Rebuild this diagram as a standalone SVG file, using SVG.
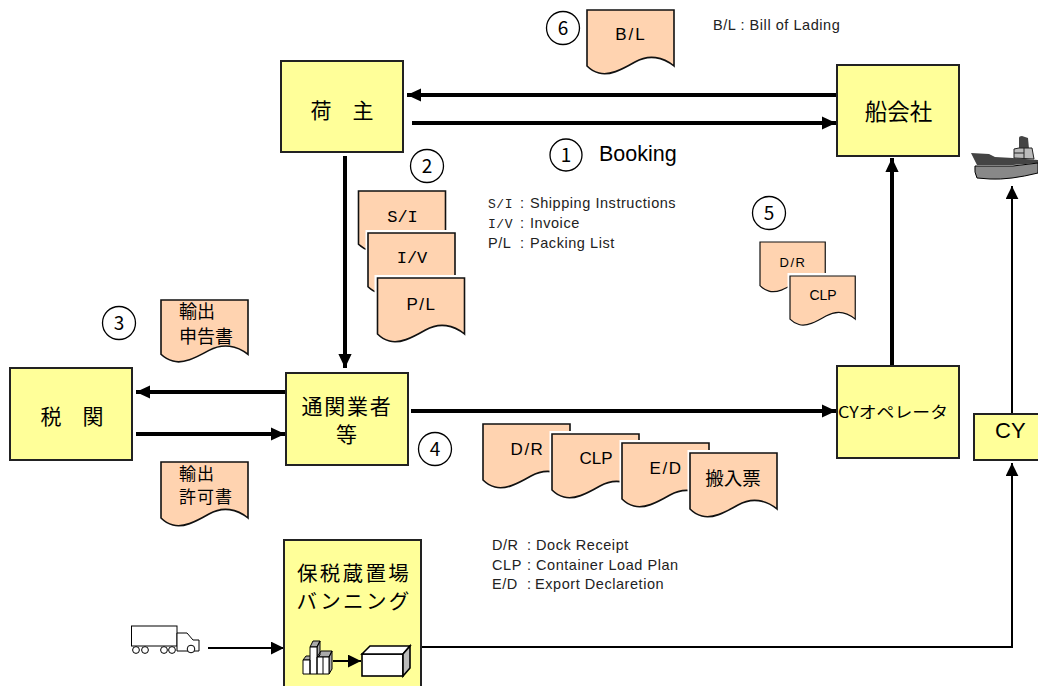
<svg xmlns="http://www.w3.org/2000/svg" width="1038" height="686" viewBox="0 0 1038 686">
<style>
text{font-family:"Noto Sans CJK JP","Liberation Sans",sans-serif;fill:#000}
.n{fill:#ffff99;stroke:#222;stroke-width:2}
.d{fill:#ffd3b0;stroke:#111;stroke-width:1.6}
.w{fill:none;stroke:#fff;stroke-width:3}
.c{text-anchor:middle}
.o{fill:#fff;stroke:#000;stroke-width:1.3}
text.s{font-family:"Liberation Sans",sans-serif;font-size:14.5px;letter-spacing:.55px;fill:#222}
text.l{font-family:"Liberation Sans",sans-serif}
.m{font-family:"Liberation Mono",monospace}
.t{fill:none;stroke:#000;stroke-width:4}
.f{fill:none;stroke:#000;stroke-width:2}
</style>
<defs>
<marker id="a" markerWidth="4" markerHeight="4" refX="3.600" refY="2" orient="auto"><path d="M0,0.3L3.600,2L0,3.700z" fill="#000"/></marker>
<marker id="b" markerWidth="7" markerHeight="7" refX="6.500" refY="3.200" orient="auto"><path d="M0,0L6.500,3.200L0,6.400z" fill="#000"/></marker>
<path id="doc" d="M0,0H87V56C76,47 62,44 48,52C34,60 22,66 12,63Q5,61 0,56Z"/>
</defs>

<g id="connectors">
<path class="t" marker-end="url(#a)" d="M836,95H407"/>
<path class="t" marker-end="url(#a)" d="M412,123H836"/>
<path class="t" marker-end="url(#a)" d="M345,156V368"/>
<path class="t" marker-end="url(#a)" d="M285,392H136"/>
<path class="t" marker-end="url(#a)" d="M136,434H285"/>
<path class="t" marker-end="url(#a)" d="M411,411H836"/>
<path class="t" marker-end="url(#a)" d="M892,365V158"/>
<path class="f" marker-end="url(#b)" d="M1012,413V186"/>
<path class="f" marker-end="url(#b)" d="M421,647H1012V463"/>
<path class="f" marker-end="url(#b)" d="M208,648H284"/>
</g>

<g id="node-shipper"><rect class="n" x="281" y="61" width="122" height="91"/><text class="c" x="342" y="118" font-size="21">荷　主</text></g>
<g id="node-carrier"><rect class="n" x="837" y="65" width="122" height="91"/><text class="c" x="898.500" y="120" font-size="22.500">船会社</text></g>
<g id="node-customs"><rect class="n" x="10" y="368" width="122" height="92"/><text class="c" x="72" y="424" font-size="21">税　関</text></g>
<g id="node-broker"><rect class="n" x="286" y="373" width="122" height="92"/><text class="c" x="347" y="414" font-size="21" letter-spacing="1.800">通関業者</text><text class="c" x="346.500" y="442" font-size="21">等</text></g>
<g id="node-cyop"><rect class="n" x="837" y="366" width="122" height="92"/><text x="838" y="418" font-size="15.500" textLength="110" lengthAdjust="spacingAndGlyphs">CYオペレータ</text></g>
<g id="node-cy"><rect class="n" x="974" y="414" width="80" height="46"/><text class="l" x="995" y="438" font-size="22">CY</text></g>
<g id="node-bonded"><rect class="n" x="284" y="540" width="137" height="150"/><text class="c" x="354" y="581" font-size="20.500" letter-spacing="2.300">保税蔵置場</text><text class="c" x="354" y="609" font-size="20.500" letter-spacing="2.300">バンニング</text>
<g id="icon-boxes" stroke="#000" stroke-width="1" fill="#fff">
<path fill="#aaa" d="M310,647l3,-6h7l-3,6zM317,647l3,-6v14l-3,3zM303,660l3,-4h5l-1,4zM317,657l4,-6h11l-3,6zM329,657l3,-6v18l-3,5z"/>
<path d="M310,647h7v27h-7zM303,660h7v14h-7zM317,657h12v17h-12zM323,657v17"/>
</g>
<path d="M333,661H361" stroke="#000" stroke-width="2" marker-end="url(#b)"/>
<g id="icon-container" stroke="#000" stroke-width="1.600"><rect x="362" y="654" width="41" height="22" fill="#fff"/><path d="M362,654l8,-8h40l-7,8z" fill="#fff"/><path d="M403,654l7,-8v22l-7,8z" fill="#bbb"/></g>
</g>

<g id="ship">
<path d="M1019,149V138Q1019,136 1022,136L1028,138L1029,149z" fill="#444"/>
<path d="M971,153L989,154L995,157L1013,158L1038,160V163L1013,165H977z" fill="#444"/>
<path d="M1014,158V149L1019,148H1032L1034,159z" fill="#bbb" stroke="#222" stroke-width="1"/>
<path d="M1014,153H1024M1024,148V158" stroke="#222" stroke-width="1" fill="none"/>
<path d="M975,166L1013,166L1038,163V173Q1010,180 990,179L977,178Q974,172 975,166z" fill="#888" stroke="#000" stroke-width="1"/>
</g>

<g id="truck" fill="#fff" stroke="#000" stroke-width="1">
<rect x="131.500" y="626" width="45.500" height="20"/>
<path d="M177,633h10l6,7h6v11h-22z"/>
<circle cx="136" cy="650" r="3.400"/><circle cx="145" cy="650" r="3.400"/><circle cx="164" cy="650" r="3.400"/><circle cx="172" cy="650" r="3.400"/><circle cx="191" cy="649" r="3.800"/>
</g>

<g id="doc-bl"><use href="#doc" class="d" x="587" y="10"/><text class="l c" x="631" y="40" font-size="17" letter-spacing="2">B/L</text></g>
<g id="doc-si"><use href="#doc" class="d" transform="translate(358.500 191) scale(1 .95)"/><text class="m c" x="402.500" y="222" font-size="17">S/I</text></g>
<g id="doc-iv"><path class="w" d="M367,295V231.500H457"/><use href="#doc" class="d" transform="translate(368 233) scale(1 .96)"/><text class="m c" x="412" y="263" font-size="17">I/V</text></g>
<g id="doc-pl"><path class="w" d="M376,335V276.500H466"/><use href="#doc" class="d" x="377.500" y="278"/><text class="l c" x="421.500" y="310" font-size="17" letter-spacing="1.500">P/L</text></g>
<g id="doc-export"><use href="#doc" class="d" transform="translate(161 300) scale(1 .97)"/><text x="179" y="318" font-size="18">輸出</text><text x="179" y="343" font-size="18">申告書</text></g>
<g id="doc-permit"><use href="#doc" class="d" x="161" y="462"/><text x="179" y="479.500" font-size="17" letter-spacing="1">輸出</text><text x="179" y="503" font-size="17" letter-spacing="1">許可書</text></g>
<g id="doc-dr-small"><use href="#doc" class="d" transform="translate(760 242) scale(.75 .78)"/><text class="l c" x="793" y="267" font-size="13" letter-spacing="1.500">D/R</text></g>
<g id="doc-clp-small"><path class="w" d="M789,320V274.500H856"/><use href="#doc" class="d" transform="translate(790 276) scale(.75 .77)"/><text class="l c" x="823" y="300" font-size="14">CLP</text></g>
<g id="doc-dr"><use href="#doc" class="d" x="483" y="424"/><text class="l c" x="527.500" y="455" font-size="17" letter-spacing="1.500">D/R</text></g>
<g id="doc-clp"><path class="w" d="M551,490V432.500H641"/><use href="#doc" class="d" x="552" y="434"/><text class="l c" x="596" y="464" font-size="17">CLP</text></g>
<g id="doc-ed"><path class="w" d="M621,500V441.500H711"/><use href="#doc" class="d" x="622" y="443"/><text class="l c" x="666" y="474" font-size="17" letter-spacing="1.500">E/D</text></g>
<g id="doc-hannyu"><path class="w" d="M689,510V451.500H778"/><use href="#doc" class="d" x="690" y="453"/><text class="c" x="733" y="485" font-size="18.500">搬入票</text></g>

<g id="labels">
<circle class="o" cx="563" cy="28" r="16.500"/><text class="c" x="563" y="35" font-size="19">6</text>
<circle class="o" cx="566" cy="155" r="16"/><text class="c" x="566" y="162" font-size="19">1</text>
<circle class="o" cx="427" cy="166" r="16.500"/><text class="c" x="427" y="173" font-size="19">2</text>
<circle class="o" cx="119" cy="323" r="16.500"/><text class="c" x="119" y="330" font-size="19">3</text>
<circle class="o" cx="435" cy="449" r="16.500"/><text class="c" x="435" y="456" font-size="19">4</text>
<circle class="o" cx="769" cy="213" r="16.500"/><text class="c" x="769" y="220" font-size="19">5</text>
<text class="l" x="599" y="161" font-size="21.500">Booking</text>
<text class="s" x="713" y="30">B/L : Bill of Lading</text>
<text class="s" x="488" y="208"><tspan class="m" font-size="13">S/I</tspan><tspan x="520">:</tspan><tspan x="530">Shipping Instructions</tspan></text>
<text class="s" x="488" y="228"><tspan class="m" font-size="13">I/V</tspan><tspan x="520">:</tspan><tspan x="530">Invoice</tspan></text>
<text class="s" x="488" y="248">P/L<tspan x="520">:</tspan><tspan x="530">Packing List</tspan></text>
<text class="s" x="492" y="550">D/R<tspan x="527">:</tspan><tspan x="536">Dock Receipt</tspan></text>
<text class="s" x="492" y="570">CLP<tspan x="527">:</tspan><tspan x="536">Container Load Plan</tspan></text>
<text class="s" x="492" y="589">E/D<tspan x="527">:</tspan><tspan x="535">Export Declaretion</tspan></text>
</g>
</svg>
